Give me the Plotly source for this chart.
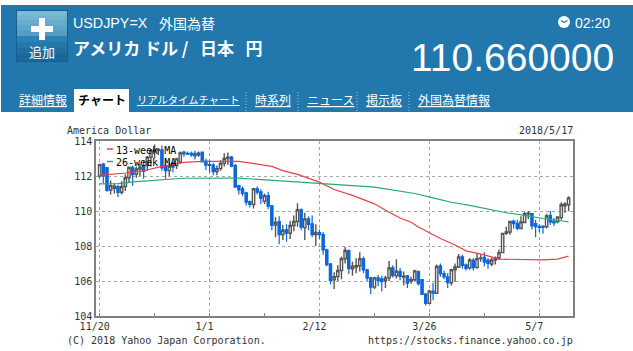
import plotly.graph_objects as go

# ---- data ----
opens = [112.0,112.68,112.48,111.2,111.3,111.4,111.07,111.4,111.9,112.5,112.1,112.4,112.6,112.6,113.07,113.4,113.45,113.5,112.54,112.31,112.73,112.6,112.8,
 113.36,113.3,113.3,113.3,113.19,113.36,112.85,112.65,112.62,112.25,112.42,112.72,113.0,113.08,112.6,111.45,111.27,111.04,110.54,110.37,111.27,111.1,110.56,110.88,110.3,
 109.2,109.4,108.65,108.93,108.73,109.17,109.4,110.07,109.05,109.55,109.27,108.65,108.77,108.65,107.78,106.98,106.07,106.25,106.6,107.27,107.74,106.7,106.8,106.87,107.27,106.64,
 106.18,105.65,106.18,106.12,106.03,106.18,106.75,106.31,106.55,106.22,106.3,106.0,106.07,106.53,106.08,105.26,104.72,105.42,105.3,106.87,106.42,106.23,105.9,106.64,106.8,
 107.38,106.92,106.75,107.2,106.78,107.28,107.35,107.2,106.97,107.2,107.32,107.62,108.72,108.8,109.42,109.3,109.0,109.34,109.83,109.85,109.28,109.13,109.12,109.1,109.75,109.42,
 109.38,109.62,110.3,110.36]
highs = [112.7,112.75,112.5,111.75,111.6,111.5,111.7,112.1,112.55,112.6,112.55,112.7,112.85,113.15,113.55,113.8,113.6,113.75,112.9,112.8,112.85,113.05,113.4,
 113.45,113.4,113.4,113.45,113.4,113.4,113.0,112.9,112.75,112.6,112.9,113.3,113.35,113.15,112.7,111.5,111.4,111.1,110.6,111.3,111.4,111.25,111.0,111.1,110.35,
 109.65,109.7,109.2,109.25,109.45,109.75,110.45,110.15,109.9,109.7,109.75,109.25,108.95,108.8,107.85,107.0,106.5,106.9,107.4,107.95,107.8,107.1,107.3,107.65,107.4,106.7,
 106.25,106.25,106.35,106.3,106.3,107.15,106.9,107.25,106.75,106.55,106.35,106.25,106.65,106.6,106.1,105.3,105.5,105.9,106.95,107.0,106.6,106.45,106.7,107.0,107.55,
 107.5,107.0,107.3,107.3,107.55,107.5,107.65,107.3,107.35,107.4,107.8,108.75,109.1,109.45,109.5,109.5,109.7,109.95,110.0,109.9,109.5,109.25,109.2,109.85,110.0,109.6,
 109.7,110.5,110.5,110.85]
lows = [111.9,111.6,111.1,110.95,111.0,110.8,110.95,111.15,111.6,111.45,111.9,112.0,111.85,112.3,112.55,113.0,113.2,112.3,111.85,112.0,112.2,112.4,112.7,
 113.1,113.2,113.1,112.95,113.1,112.8,112.35,112.2,112.05,112.05,112.3,112.55,112.65,112.5,111.3,110.95,110.85,110.3,110.2,110.15,110.95,110.4,110.4,110.1,108.9,
 108.5,108.1,108.35,108.25,108.4,108.85,109.1,108.9,108.35,108.9,108.5,108.0,108.4,107.5,106.85,105.8,105.55,106.0,106.1,107.0,106.4,106.3,106.45,106.55,106.45,106.0,
 105.25,105.55,105.7,105.4,105.6,106.0,106.2,106.15,106.05,105.75,105.6,105.85,106.0,105.75,105.2,104.6,104.7,104.9,105.3,106.25,106.1,105.6,105.75,105.95,106.75,
 106.7,106.6,106.65,106.6,106.7,107.1,106.85,106.7,106.85,106.95,107.2,107.6,108.65,108.65,109.0,108.9,109.0,109.3,109.55,108.95,108.5,108.8,108.7,109.0,109.2,109.15,
 109.3,109.5,109.9,109.98]
closes = [112.65,112.0,111.18,111.45,111.42,111.07,111.4,111.9,112.5,112.08,112.4,112.5,112.27,113.07,113.45,113.5,113.52,112.47,112.31,112.55,112.5,112.98,113.32,
 113.26,113.25,113.2,113.15,113.3,112.8,112.62,112.6,112.25,112.42,112.72,113.0,113.08,112.57,111.38,111.2,111.0,110.5,110.37,111.27,111.08,110.73,110.88,110.28,109.17,
 109.35,108.65,108.9,108.73,109.17,109.4,110.07,109.08,109.55,109.23,108.65,108.77,108.65,107.78,106.94,106.03,106.25,106.6,107.27,107.74,106.7,106.85,106.88,107.27,106.64,106.16,
 105.65,106.18,106.03,105.97,106.18,106.75,106.31,106.56,106.26,106.27,105.88,106.07,106.58,105.85,105.23,104.72,105.42,105.3,106.83,106.42,106.23,105.9,106.64,106.8,107.38,
 106.89,106.72,107.2,106.77,107.28,107.32,107.08,107.0,107.2,107.32,107.62,108.72,108.8,109.4,109.28,109.0,109.38,109.85,109.87,109.15,109.1,109.06,109.06,109.72,109.38,109.32,
 109.66,110.36,110.4,110.75]
days = list(range(len(closes)))

ma13_days = [0,2,7,12,17,23,28,38,43,47,50,54,60,64,69,75,79,82,85,87,93,97,100,105,109,115,121,125,128]
ma13_vals = [112.03,112.06,112.17,112.3,112.55,112.78,112.84,112.84,112.7,112.55,112.31,112.09,111.65,111.23,110.89,110.41,109.93,109.6,109.36,109.09,108.43,108.06,107.72,107.49,107.25,107.21,107.21,107.25,107.42]
ma26_days = [0,5,10,15,23,38,53,60,64,68,75,81,86,91,96,101,106,111,116,121,125,128]
ma26_vals = [111.55,111.57,111.68,111.77,111.87,111.88,111.69,111.6,111.55,111.46,111.36,111.16,111.0,110.75,110.5,110.32,110.1,109.9,109.75,109.57,109.47,109.38]

major_ticks = [0,30,60,90,120]
major_labels = ["11/20","1/1","2/12","3/26","5/7"]
minor_ticks = [15,45,75,105]
price_ticks = [104,106,108,110,112,114]

W, H = 633, 351
L, R, T, B = 96, 573, 141, 316
def px(x): return x / W
def py(y): return 1 - y / H

BLUE = "#2277ad"
MONO = "DejaVu Sans Mono"
SANS = "Liberation Sans, Noto Sans CJK JP"
JP = "Noto Sans CJK JP"

fig = go.Figure()
fig.add_trace(go.Scatter(x=ma13_days, y=ma13_vals, mode="lines", name="13-week MA",
                         line=dict(color="#e8404a", width=1.2), showlegend=False, hoverinfo="skip"))
fig.add_trace(go.Scatter(x=ma26_days, y=ma26_vals, mode="lines", name="26-week MA",
                         line=dict(color="#25ab70", width=1.2), showlegend=False, hoverinfo="skip"))
fig.add_trace(go.Candlestick(x=days, open=opens, high=highs, low=lows, close=closes,
    increasing=dict(line=dict(color="#555555", width=1.4), fillcolor="#ffffff"),
    decreasing=dict(line=dict(color="#0a66dc", width=1.2), fillcolor="#0a66dc"),
    showlegend=False, whiskerwidth=0))

shapes = []
def rect(x0, y0, x1, y1, color):
    shapes.append(dict(type="rect", xref="paper", yref="paper", x0=px(x0), x1=px(x1),
                       y0=py(y0), y1=py(y1), fillcolor=color, line=dict(width=0), layer="above"))
def hline(x0, x1, y, color):
    shapes.append(dict(type="line", xref="paper", yref="paper", x0=px(x0), x1=px(x1),
                       y0=py(y), y1=py(y), line=dict(color=color, width=1.5), layer="above"))

# header band
rect(1, 5, 633, 112, BLUE)
# button
rect(16, 10, 68, 62, "#14608f")
band_rows = [(11, 15, "#7cbad7"), (15, 20, "#72b3d2"), (20, 25, "#68accd"), (25, 30, "#5ea5c8"),
             (30, 36, "#549ec4"), (36, 42, "#2a83b4"), (42, 48, "#2579aa"), (48, 54, "#1f70a1"), (54, 61, "#1a6899")]
for y0, y1, c in band_rows:
    rect(17, y0, 67, y1, c)
rect(31, 26, 53, 32, "#ffffff")
rect(39, 18, 45, 40, "#ffffff")
# active tab
rect(74, 89, 129, 112, "#ffffff")
# tab separators
for sx in [246, 298, 357, 409]:
    shapes.append(dict(type="line", xref="paper", yref="paper", x0=px(sx), x1=px(sx),
                       y0=py(92), y1=py(112), line=dict(color="#a9cfe6", width=1, dash="1px,2px"), layer="above"))
# clock icon
shapes.append(dict(type="circle", xref="paper", yref="paper", x0=px(558), x1=px(570), y0=py(28), y1=py(16),
                   fillcolor="#ffffff", line=dict(width=0), layer="above"))
shapes.append(dict(type="path", xref="paper", yref="paper",
                   path=f"M {px(564)},{py(22.5)} L {px(567.5)},{py(20.5)} M {px(564)},{py(22.5)} L {px(561)},{py(20.5)}",
                   line=dict(color=BLUE, width=1.3), layer="above"))
# legend samples
hline(107, 113, 149, "#e8404a")
hline(107, 113, 161.5, "#25ab70")

ann = []
def text(x, y, s, size, color="#ffffff", anchor="left", family=SANS):
    ann.append(dict(xref="paper", yref="paper", x=px(x), y=py(y), text=s, showarrow=False,
                    xanchor=anchor, yanchor="middle", align=anchor, borderpad=0, borderwidth=0,
                    font=dict(size=size, color=color, family=family)))

text(42, 51, "追加", 13, family=JP, anchor="center")
text(73, 23, "USDJPY=X", 14.3)
text(159, 23, "外国為替", 14, family=JP)
text(73, 48, "<b>アメリカ ドル / &nbsp;&nbsp;日本&nbsp;&nbsp;&nbsp;円</b>", 17, family=JP)
text(614, 58, "110.660000", 39, anchor="right")
text(610, 23, "02:20", 14, anchor="right")
for x, s in [(19, "詳細情報"), (137, "リアルタイムチャート"), (255, "時系列"), (307, "ニュース"), (366, "掲示板"), (418, "外国為替情報")]:
    text(x, 100, f"<u>{s}</u>", 12 if s != "リアルタイムチャート" else 10.3, family=JP)
text(101.5, 100, "<b>チャート</b>", 12, color="#000000", family=JP, anchor="center")

text(67, 131, "America Dollar", 10, color="#333333", family=MONO)
text(573, 131, "2018/5/17", 10, color="#333333", family=MONO, anchor="right")
text(116, 150, "13-week MA", 10, color="#000000", family=MONO)
text(116, 162.5, "26-week MA", 10, color="#000000", family=MONO)
text(67, 340, "(C) 2018 Yahoo Japan Corporation.", 10, color="#333333", family=MONO)
text(573, 340, "https://stocks.finance.yahoo.co.jp", 10, color="#333333", family=MONO, anchor="right")

fig.update_layout(
    width=W, height=H, margin=dict(l=0, r=0, t=0, b=0, pad=0, autoexpand=False),
    paper_bgcolor="#ffffff", plot_bgcolor="#ffffff", showlegend=False, boxgap=0.1,
    shapes=shapes, annotations=ann,
    xaxis=dict(domain=[L / W, R / W], range=[-1, 129.2], rangeslider=dict(visible=False), automargin=False,
               tickmode="array", tickvals=major_ticks, ticktext=major_labels, ticks="inside", ticklen=3,
               tickcolor="#808080", ticklabelshift=-5,
               tickfont=dict(family=MONO, size=10, color="#333333"),
               showgrid=True, gridcolor="#a6a6a6", griddash="3px,3px", gridwidth=1,
               minor=dict(tickmode="array", tickvals=minor_ticks, ticks="inside", ticklen=3, tickcolor="#808080", showgrid=False),
               showline=True, linecolor="#808080", linewidth=1.5, mirror=True, zeroline=False),
    yaxis=dict(domain=[1 - B / H, 1 - T / H], range=[104, 114], tickmode="array", tickvals=price_ticks, automargin=False,
               ticks="", tickfont=dict(family=MONO, size=10, color="#333333"),
               showgrid=True, gridcolor="#a6a6a6", griddash="3px,3px", gridwidth=1,
               showline=True, linecolor="#808080", linewidth=1.5, mirror=True, zeroline=False),
)

fig.write_html("out.html", config=dict(displayModeBar=False),
               post_script="document.body.style.margin='0';document.body.style.overflow='hidden';")
